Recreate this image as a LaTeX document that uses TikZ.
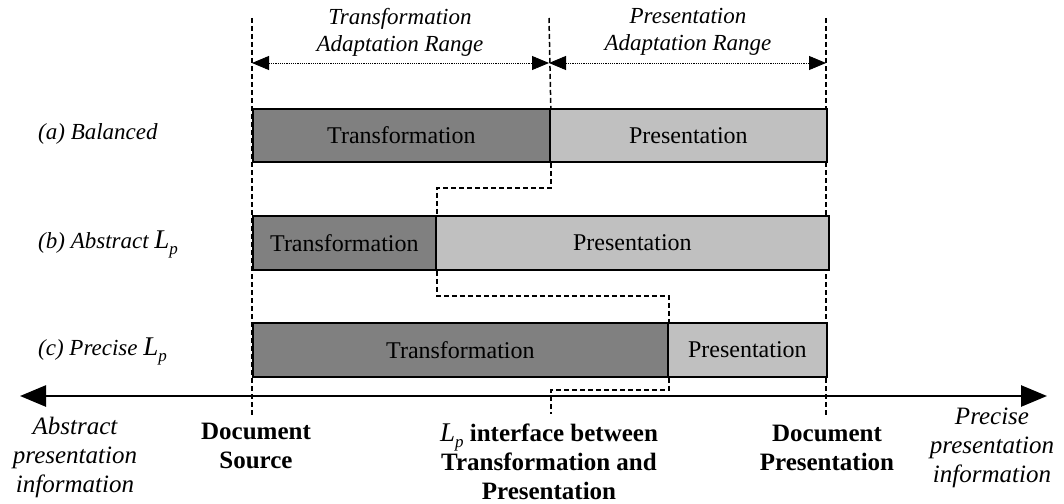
\documentclass[tikz,border=0pt]{standalone}
\usepackage{fontspec}
\setmainfont{Liberation Serif}
\usetikzlibrary{arrows.meta}
\definecolor{dkgray}{HTML}{808080}
\definecolor{ltgray}{HTML}{C0C0C0}
\newcommand\bxf{\fontsize{24}{28}\selectfont}
\newcommand\hdf{\fontsize{23}{27}\selectfont}
\newcommand\lbf{\fontsize{23}{27}\selectfont}
\newcommand\btf{\fontsize{25}{29}\selectfont}
\newcommand\myLp{{\fontsize{27}{27}\selectfont\itshape L}\raisebox{-6pt}{\fontsize{17}{17}\selectfont\itshape p}}
\begin{document}
\begin{tikzpicture}[x=1pt,y=-1pt,
  bar/.style={draw=black, line width=1.8pt, inner sep=0pt, anchor=north west, font=\bxf},
  trbar/.style={bar, fill=dkgray},
  prbar/.style={bar, fill=ltgray},
  guide/.style={line width=1.5pt, dash pattern=on 5pt off 3pt},
  link/.style={line width=1.5pt, dash pattern=on 5pt off 3pt},
  dim/.style={line width=0.9pt, dash pattern=on 1.2pt off 1pt, {Triangle[length=17pt,width=14pt]}-{Triangle[length=17pt,width=14pt]}},
  axis/.style={line width=2.6pt, {Triangle[length=26pt,width=21pt]}-{Triangle[length=26pt,width=21pt]}},
  lbl/.style={anchor=west, inner sep=0pt, font=\lbf\itshape},
  hdr/.style={align=center, inner sep=0pt, font=\hdf\itshape},
  botit/.style={align=center, inner sep=0pt, font=\btf\itshape},
  botbf/.style={align=center, inner sep=0pt, font=\btf\bfseries}
]
\fill[white] (0,0) rectangle (1064,503);
\useasboundingbox (0,0) rectangle (1064,503);

% guide coordinates
\coordinate (g1t) at (252,18);
\coordinate (g1b) at (252,415);
\coordinate (g2t) at (549,18);
\coordinate (g3t) at (826,18);
\coordinate (g3b) at (826,415);
\coordinate (d1) at (252,63);
\coordinate (d2) at (549,63);
\coordinate (d3) at (826,63);
\coordinate (axL) at (20,396);
\coordinate (axR) at (1047,396);
\coordinate (lpend) at (551,414);

\draw[guide] (g1t) -- (g1b);
\draw[guide] (g3t) -- (g3b);

% bars
\node[trbar, minimum width=297pt, minimum height=53pt] (a1) at (252,108) {Transformation};
\node[prbar, minimum width=277pt, minimum height=53pt] (a2) at (549,108) {Presentation};
\node[trbar, minimum width=183pt, minimum height=54pt] (b1) at (252,215) {Transformation};
\node[prbar, minimum width=393pt, minimum height=54pt] (b2) at (435,215) {Presentation};
\node[trbar, minimum width=415pt, minimum height=54pt] (c1) at (252,322) {Transformation};
\node[prbar, minimum width=159pt, minimum height=54pt] (c2) at (667,322) {Presentation};

\draw[guide] (g2t) -- (a1.north east);

% dimension arrows
\draw[dim] (d1) -- (d2);
\draw[dim] (d2) -- (d3);

% interface links
\draw[link] (a1.south east) -- ++(0,25) -| (b1.north east);
\draw[link] (b1.south east) -- ++(0,25) -| (c1.north east);
\draw[link] (c1.south east) -- ++(0,12) -| (lpend);

% axis
\draw[axis] (axL) -- (axR);

% headers
\node[hdr] (h1) at (400,32) {Transformation\\Adaptation Range};
\node[hdr] (h2) at (688,32) {Presentation\\Adaptation Range};

% row labels
\node[lbl] (la) at (38,134) {(a) Balanced};
\node[lbl] (lb) at (38,244) {(b) Abstract \myLp};
\node[lbl] (lc) at (38,351) {(c) Precise \myLp};

% bottom labels
\node[botit] (bl) at (75,457) {Abstract\\presentation\\information};
\node[botbf] (ds) at (256,446) {Document\\Source};
\node[botbf] (li) at (549,462) {{\mdseries\myLp} interface between\\Transformation and\\Presentation};
\node[botbf] (dp) at (827,448) {Document\\Presentation};
\node[botit] (pr) at (992,448) {Precise\\presentation\\information};
\end{tikzpicture}
\end{document}
